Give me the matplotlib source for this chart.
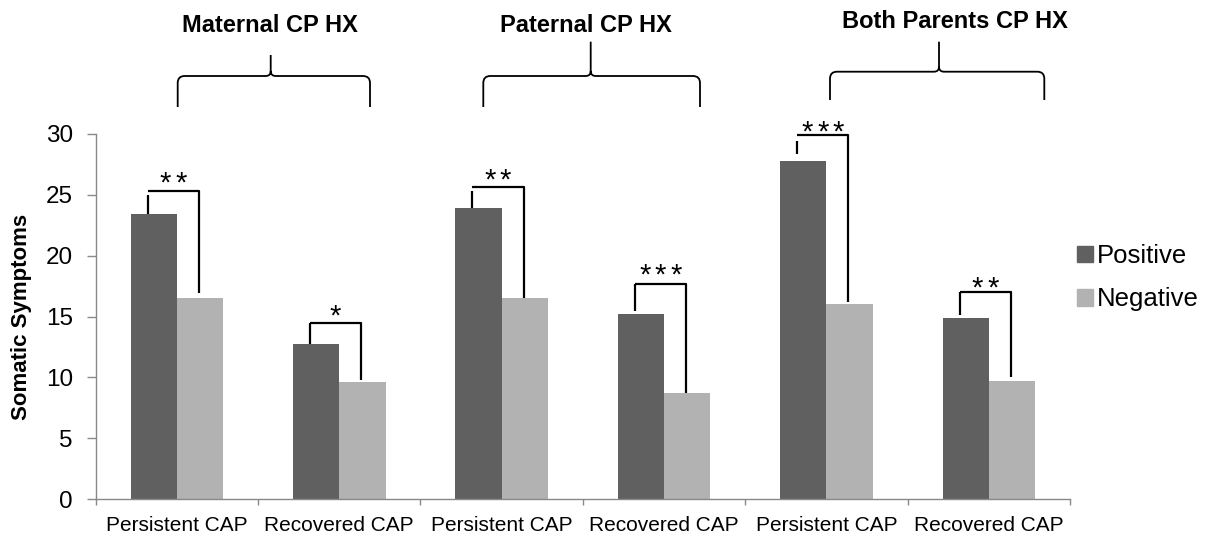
import numpy as np
import matplotlib
matplotlib.use("Agg")
import matplotlib.pyplot as plt
from matplotlib.path import Path
from matplotlib.patches import PathPatch, Patch

plt.rcParams['font.family'] = ['Liberation Sans', 'DejaVu Sans']

# Somatic symptom scores by CAP course, split by parental CP history
categories = ['Persistent CAP', 'Recovered CAP'] * 3
positive = [23.4, 12.7, 23.9, 15.2, 27.8, 14.9]
negative = [16.5, 9.6, 16.5, 8.7, 16.0, 9.7]
groups = ['Maternal CP HX', 'Paternal CP HX', 'Both Parents CP HX']

# significance stars and bracket heights (y units)
n_stars = [2, 1, 2, 3, 3, 2]
bracket_y = [25.3, 14.45, 25.65, 17.7, 29.9, 17.05]
star_y = [26.46, 15.53, 26.72, 18.92, 30.69, 17.86]
left_top = [24.95, 14.45, 25.3, 17.7, 29.45, 17.05]
left_gap = [0.0, 0.0, 0.0, 0.22, 0.55, 0.22]
right_gap = [0.4, 0.18, 0.0, 0.05, 0.2, 0.3]

DARK = '#606060'
LIGHT = '#b2b2b2'
AXIS = '#898989'

W, H = 1209, 537
fig = plt.figure(figsize=(W / 100, H / 100), dpi=100)
ax = fig.add_axes([95.7 / W, 1 - 499 / H, (1070 - 95.7) / W, (499 - 134) / H])

x = np.arange(len(categories))
bw = 0.285
ax.bar(x - bw / 2, positive, bw, color=DARK, label='Positive')
ax.bar(x + bw / 2, negative, bw, color=LIGHT, label='Negative')

ax.set_xlim(-0.5, len(categories) - 0.5)
ax.set_ylim(0, 30)
ax.set_yticks(range(0, 31, 5))
ax.set_xticks(x)
ax.set_xticklabels(categories)
ax.set_xticks(np.arange(-0.5, len(categories), 1.0), minor=True)
ax.tick_params(axis='x', which='major', length=0, labelsize=15, pad=12)
ax.tick_params(axis='x', which='minor', length=4.5, width=1, color=AXIS, direction='out')
ax.tick_params(axis='y', length=6.5, width=1, color=AXIS, labelsize=17.5, pad=10)
for side in ['top', 'right']:
    ax.spines[side].set_visible(False)
for side in ['left', 'bottom']:
    ax.spines[side].set_color(AXIS)
    ax.spines[side].set_linewidth(1)

ax.set_ylabel('Somatic Symptoms', fontsize=16, fontweight='bold')
ax.yaxis.set_label_coords(-0.0654, 0.5)

# significance brackets between the paired bars
lx_off, rx_off = -0.18, 0.135
star_size = 21
star_step = 11  # points between neighbouring asterisks
for i in range(len(categories)):
    lx, rx = i + lx_off, i + rx_off
    ax.plot([lx, lx], [positive[i] + left_gap[i], left_top[i]],
            color='black', lw=1.6, clip_on=False, solid_capstyle='butt')
    ax.plot([lx, rx, rx], [bracket_y[i], bracket_y[i], negative[i] + right_gap[i]],
            color='black', lw=1.6, clip_on=False, solid_capstyle='butt')
    cx = (lx + rx) / 2
    for k in range(n_stars[i]):
        dx = (k - (n_stars[i] - 1) / 2) * star_step
        ax.annotate('*', (cx, star_y[i]), xytext=(dx, -0.5 * star_size),
                    textcoords='offset points', ha='center', va='baseline',
                    fontsize=star_size, annotation_clip=False)

handles = [Patch(color=DARK, label='Positive'), Patch(color=LIGHT, label='Negative')]
fig.legend(handles=handles, loc='upper left', bbox_to_anchor=(1077 / W, 1 - 244 / H),
           frameon=False, fontsize=18.5, handlelength=0.62, handleheight=0.62,
           handletextpad=0.16, labelspacing=0.75, borderpad=0, borderaxespad=0)


def to_fig(px, py):
    return (px / W, 1 - py / H)


def brace(x0, x1, xm, yb, yf, ys, r=7, rm=5):
    pts = [(x0, yb), (x0, yf + r), (x0, yf), (x0 + r, yf), (xm - rm, yf),
           (xm, yf), (xm, yf - rm), (xm, ys),
           (x1, yb), (x1, yf + r), (x1, yf), (x1 - r, yf), (xm + rm, yf),
           (xm, yf), (xm, yf - rm)]
    codes = [Path.MOVETO, Path.LINETO, Path.CURVE3, Path.CURVE3, Path.LINETO,
             Path.CURVE3, Path.CURVE3, Path.LINETO,
             Path.MOVETO, Path.LINETO, Path.CURVE3, Path.CURVE3, Path.LINETO,
             Path.CURVE3, Path.CURVE3]
    path = Path([to_fig(*p) for p in pts], codes)
    fig.add_artist(PathPatch(path, fill=False, lw=1.3, color='black',
                             transform=fig.transFigure))


# curly braces over each parental group, with group titles
braces = [(177.7, 370, 270.7, 107, 76, 55),
          (483.3, 700, 590.7, 107, 76, 41.7),
          (830, 1044.3, 939, 100, 71.7, 41.7)]
titles = [(270, 31.7), (585.5, 31.7), (955, 28.3)]
for b in braces:
    brace(*b)
for name, (cx, by) in zip(groups, titles):
    fig.text(*to_fig(cx, by), name, ha='center', va='baseline',
             fontsize=17, fontweight='bold')

fig.savefig('out.png', dpi=100)
